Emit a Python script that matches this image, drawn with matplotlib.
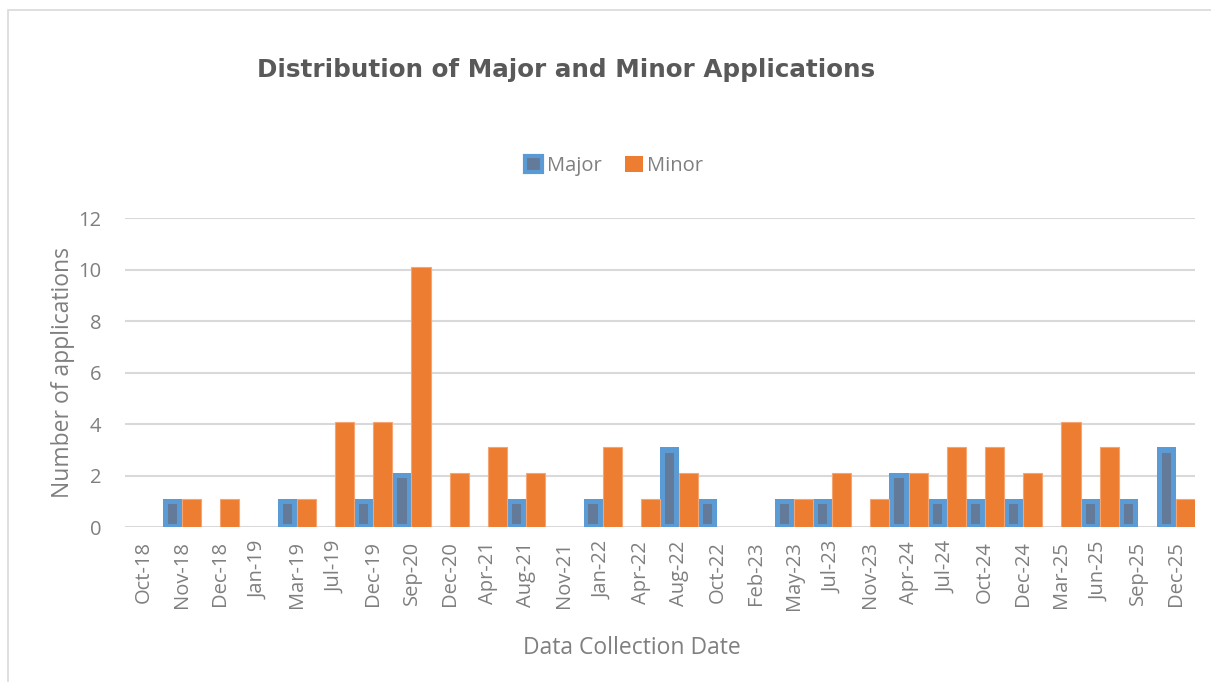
import numpy as np
import matplotlib
matplotlib.use("Agg")
import matplotlib.pyplot as plt
from matplotlib.patches import Rectangle, Patch

plt.rcParams['font.family'] = ['Open Sans', 'DejaVu Sans']

dates = ["Oct-18", "Nov-18", "Dec-18", "Jan-19", "Mar-19", "Jul-19", "Dec-19",
         "Sep-20", "Dec-20", "Apr-21", "Aug-21", "Nov-21", "Jan-22", "Apr-22",
         "Aug-22", "Oct-22", "Feb-23", "May-23", "Jul-23", "Nov-23", "Apr-24",
         "Jul-24", "Oct-24", "Dec-24", "Mar-25", "Jun-25", "Sep-25", "Dec-25"]
major = [0, 1, 0, 0, 1, 0, 1, 2, 0, 0, 1, 0, 1, 0, 3, 1, 0, 1, 1, 0, 2, 1, 1, 1, 0, 1, 1, 3]
minor = [0, 1, 1, 0, 1, 4, 4, 10, 2, 3, 2, 0, 3, 1, 2, 0, 0, 1, 2, 1, 2, 3, 3, 2, 4, 3, 0, 1]

blue = '#5B9BD5'
inner = '#647A99'
orange = '#ED7D31'
txt = '#595959'
lbl = '#7F7F7F'

fig = plt.figure(figsize=(12.11, 6.82), dpi=100)
ax = fig.add_axes([0.103, 0.227, 0.884, 0.453])

x = np.arange(len(dates))
maj = np.array(major, dtype=float)
w = 0.5

# major bars: blue outer with darker inner block (skip empty ones)
has = maj > 0
ax.bar(x[has] - w/2, maj[has] + 0.1, width=w, color=blue, zorder=3)
ax.bar(x[has] - w/2, maj[has] - 0.22, width=w*0.48, bottom=0.12,
       color=inner, zorder=4)
mnr = np.array(minor, dtype=float)
on = mnr > 0
ax.bar(x[on] + w/2, mnr[on] + 0.1, width=w, color=orange, edgecolor='#F4A572',
       linewidth=0.8, zorder=3)

ax.set_xlim(-0.5, len(dates) - 0.5)
ax.set_ylim(0, 12)
ax.set_yticks(range(0, 13, 2))
ax.set_xticks(x)
ax.set_xticklabels(dates, rotation=90)
ax.tick_params(axis='both', length=0, colors=lbl, labelsize=14.5)
ax.tick_params(axis='y', pad=17)
ax.tick_params(axis='x', pad=10)
ax.grid(axis='y', color='#D9D9D9', linewidth=1.5, zorder=0)
for s in ax.spines.values():
    s.set_visible(False)

ax.set_ylabel('Number of applications', fontsize=16.5, color=lbl, labelpad=2)
ax.set_xlabel('Data Collection Date', fontsize=16.5, color=lbl, va='center')
ax.xaxis.set_label_coords(0.474, -0.392)

fig.text(0.212, 0.897, 'Distribution of Major and Minor Applications',
         fontsize=17.7, fontweight='bold', color=txt, va='center',
         family=['DejaVu Sans'])

handles = [Patch(facecolor=inner, edgecolor=blue, linewidth=3),
           Patch(facecolor=orange)]
fig.legend(handles, ['Major', 'Minor'], loc='center', bbox_to_anchor=(0.507, 0.757),
           ncol=2, frameon=False, fontsize=14.5, handlelength=0.85, handleheight=0.9,
           handletextpad=0.2, columnspacing=1.2, labelcolor=lbl)

# thin frame round the chart area
fig.patches.append(Rectangle((0.0066, -0.01), 1.0, 0.996, transform=fig.transFigure,
                             fill=False, edgecolor='#D9D9D9', linewidth=1.2))

fig.savefig('out.png', dpi=100)
